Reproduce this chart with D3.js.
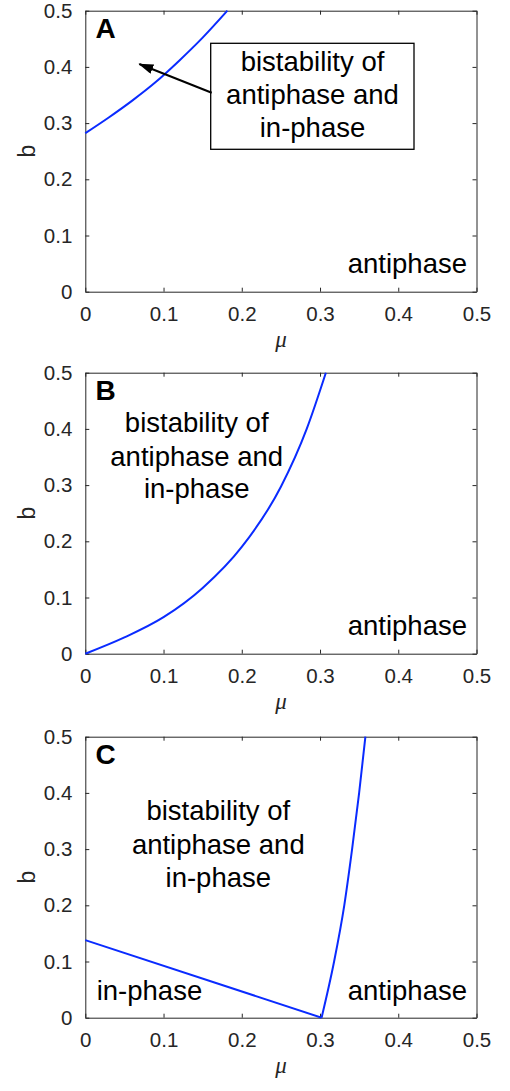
<!DOCTYPE html>
<html>
<head>
<meta charset="utf-8">
<script src="https://cdn.jsdelivr.net/npm/d3@7"></script>
<style>
  html, body { margin: 0; padding: 0; background: #fff; }
  svg { display: block; }
</style>
</head>
<body>
<div id="chart"></div>
<script>
// Three stacked phase diagrams (b vs mu).
const muTicks = [0, 0.1, 0.2, 0.3, 0.4, 0.5];
const bTicks = [0, 0.1, 0.2, 0.3, 0.4, 0.5];
const panelNames = ['A', 'B', 'C'];

// Panel A boundary
const muA = [0, 0.03, 0.06, 0.09, 0.12, 0.15, 0.1816];
const bA  = [0.282, 0.310, 0.340, 0.373, 0.411, 0.452, 0.5];

// Panel B boundary
const muB = [0, 0.05, 0.1, 0.15, 0.2, 0.25, 0.283, 0.3075];
const bB  = [0, 0.029, 0.065, 0.117, 0.19, 0.297, 0.4, 0.5];

// Panel C boundaries
const muC1 = [0, 0.302];
const bC1  = [0.138, 0];
const muC2 = [0.302, 0.318, 0.331, 0.341, 0.350, 0.358];
const bC2  = [0, 0.1, 0.2, 0.3, 0.4, 0.5];

const regionBistable = ['bistability of', 'antiphase and', 'in-phase'];
const regionAnti = 'antiphase';
const regionIn = 'in-phase';

const W = 510, H = 1091;
const LEFT = 85.3, RIGHT = 476.5;
const panelTops = [10.7, 372.7, 736.7];
const PH = 281;
const axisInk = '#262626';
const lineBlue = '#0a2bff';
const sans = 'Liberation Sans, Arial, Helvetica, sans-serif';

const pairs = (xs, ys) => xs.map((v, i) => [v, ys[i]]);
const curves = [
  [pairs(muA, bA)],
  [pairs(muB, bB)],
  [pairs(muC1, bC1), pairs(muC2, bC2)]
];

const svg = d3.select('#chart').append('svg')
  .attr('width', W).attr('height', H).attr('viewBox', `0 0 ${W} ${H}`);

const x = d3.scaleLinear().domain([0, 0.5]).range([LEFT, RIGHT]);

panelNames.forEach((name, k) => {
  const top = panelTops[k], bottom = top + PH;
  const y = d3.scaleLinear().domain([0, 0.5]).range([bottom, top]);
  const g = svg.append('g');

  // axes: ticks inward on all four sides (box look)
  const styleAxis = (sel) => {
    sel.attr('font-size', null).attr('font-family', null);
    sel.select('.domain').attr('stroke', axisInk).attr('stroke-width', 1);
    sel.selectAll('.tick line').attr('stroke', axisInk).attr('stroke-width', 1);
    sel.selectAll('text').attr('fill', axisInk).attr('font-family', sans).attr('font-size', 20.5);
  };
  g.append('g').attr('transform', `translate(0,${bottom})`)
    .call(d3.axisBottom(x).tickValues(muTicks).tickFormat(d3.format('~g'))
      .tickSizeInner(-4).tickSizeOuter(0).tickPadding(15))
    .call(styleAxis);
  g.append('g').attr('transform', `translate(0,${top})`)
    .call(d3.axisTop(x).tickValues(muTicks).tickFormat('').tickSizeInner(-4).tickSizeOuter(0))
    .call(styleAxis);
  g.append('g').attr('transform', `translate(${LEFT},0)`)
    .call(d3.axisLeft(y).tickValues(bTicks).tickFormat(d3.format('~g'))
      .tickSizeInner(-4).tickSizeOuter(0).tickPadding(13))
    .call(styleAxis);
  g.append('g').attr('transform', `translate(${RIGHT},0)`)
    .call(d3.axisRight(y).tickValues(bTicks).tickFormat('').tickSizeInner(-4).tickSizeOuter(0))
    .call(styleAxis);

  // axis labels
  g.append('text').attr('x', (LEFT + RIGHT) / 2).attr('y', bottom + 55)
    .attr('text-anchor', 'middle').attr('fill', axisInk)
    .attr('font-family', 'Liberation Serif, Times New Roman, serif').attr('font-style', 'italic')
    .attr('font-size', 23).text('μ');
  g.append('text').attr('transform', `translate(35,${(top + bottom) / 2}) rotate(-90)`)
    .attr('text-anchor', 'middle').attr('fill', axisInk)
    .attr('font-family', sans).attr('font-size', 23).text('b');

  // boundary curves
  const line = d3.line().x((p) => x(p[0])).y((p) => y(p[1])).curve(d3.curveMonotoneX);
  curves[k].forEach((pts) => {
    g.append('path').datum(pts).attr('d', line)
      .attr('fill', 'none').attr('stroke', lineBlue).attr('stroke-width', 2)
      .attr('stroke-linejoin', 'round');
  });

  // panel letter
  g.append('text').attr('x', 95.5).attr('y', top + 27)
    .attr('font-family', sans).attr('font-weight', 'bold').attr('font-size', 28)
    .attr('fill', '#000').text(name);

  // "antiphase" region label on the right
  g.append('text').attr('x', 467).attr('y', k === 2 ? bottom - 17.7 : bottom - 18.5)
    .attr('text-anchor', 'end').attr('font-family', sans).attr('font-size', 27.5)
    .attr('fill', '#000').text(regionAnti);
});

// Region labels for bistability
function multiline(cx, baselines) {
  regionBistable.forEach((t, i) => {
    svg.append('text').attr('x', cx).attr('y', baselines[i])
      .attr('text-anchor', 'middle').attr('font-family', sans).attr('font-size', 27.5)
      .attr('fill', '#000').text(t);
  });
}

// Panel A: boxed annotation with arrow
svg.append('rect').attr('x', 210.7).attr('y', 43.3).attr('width', 203.3).attr('height', 106)
  .attr('fill', '#fff').attr('stroke', '#000').attr('stroke-width', 1.3);
multiline(312.5, [70.7, 104, 136.7]);
svg.append('defs').append('marker').attr('id', 'head')
  .attr('viewBox', '0 0 15 10').attr('refX', 14).attr('refY', 5)
  .attr('markerWidth', 15).attr('markerHeight', 10).attr('markerUnits', 'userSpaceOnUse')
  .attr('orient', 'auto')
  .append('path').attr('d', 'M0,0 L15,5 L0,10 z').attr('fill', '#000');
svg.append('line').attr('x1', 211.7).attr('y1', 92.7).attr('x2', 139.3).attr('y2', 64)
  .attr('stroke', '#000').attr('stroke-width', 2).attr('marker-end', 'url(#head)');

// Panel B
multiline(196.7, [431.7, 466, 498.3]);

// Panel C
multiline(218.3, [820, 854.3, 886.7]);
svg.append('text').attr('x', 96.7).attr('y', 1000)
  .attr('font-family', sans).attr('font-size', 27.5).attr('fill', '#000').text(regionIn);
</script>
</body>
</html>
